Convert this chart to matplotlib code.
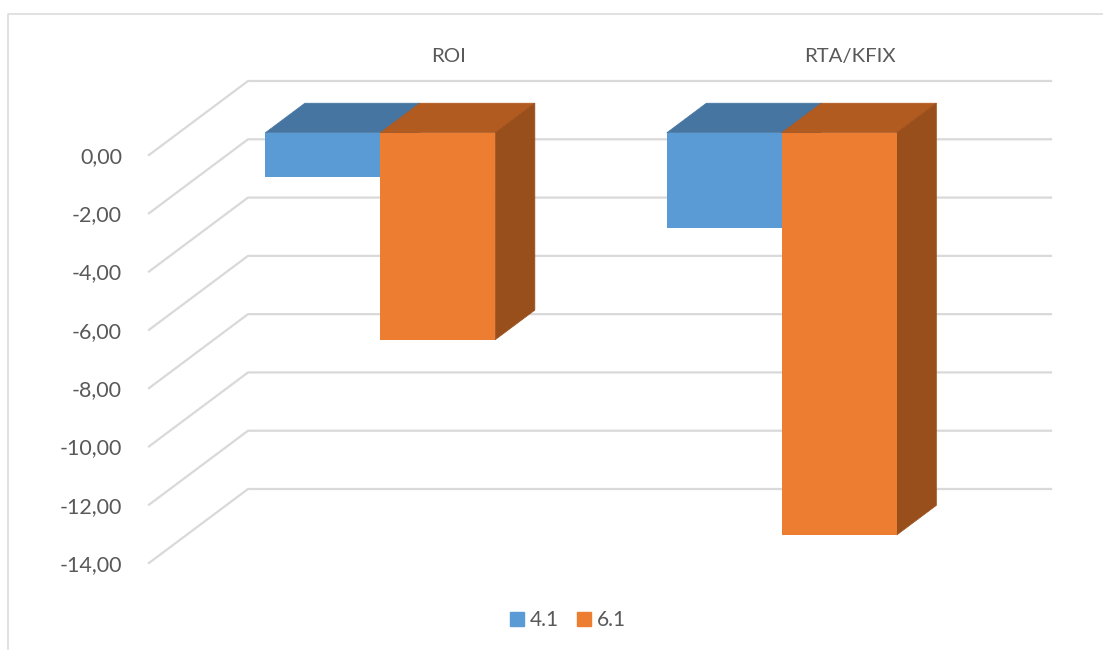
import matplotlib
matplotlib.use("Agg")
import matplotlib.pyplot as plt
from matplotlib.lines import Line2D
from matplotlib.patches import Patch, Polygon
from matplotlib.transforms import ScaledTranslation

categories = ["ROI", "RTA/KFIX"]
series_names = ["4.1", "6.1"]
values_41 = [-1.5, -3.26]
values_61 = [-7.1, -13.8]
yticks = [0, -2, -4, -6, -8, -10, -12, -14]
ytick_labels = ["0,00", "-2,00", "-4,00", "-6,00", "-8,00", "-10,00", "-12,00", "-14,00"]

W, H = 1103, 650
PX_X0, PX_X1, PX_Y0, PX_Y1 = 149, 952, 155, 563   # front plane box in pixels
DX_PX, DY_PX = 99, 74                              # oblique depth in pixels
BAR_W = 115 / 401.5
BAR_NUDGE = 0.8 / 401.5
D_FRONT, D_BACK = 0.3, 0.7
GRID = "#D9D9D9"
TEXT = "#595959"
FACE = {"4.1": ("#5B9BD5", "#4675A1", "#3F6A92"), "6.1": ("#ED7D31", "#B25B20", "#994F1C")}

plt.rcParams["font.family"] = ["Lato", "DejaVu Sans"]
fig = plt.figure(figsize=(W / 100, H / 100), dpi=100, facecolor="white")
ax = fig.add_axes([PX_X0 / W, 1 - PX_Y1 / H, (PX_X1 - PX_X0) / W, (PX_Y1 - PX_Y0) / H])
ax.set_xlim(0, 2)
ax.set_ylim(-14, 0)
ax.patch.set_visible(False)
for s in ax.spines.values():
    s.set_visible(False)

ux = (PX_X1 - PX_X0) / 2
uy = (PX_Y1 - PX_Y0) / 14
def proj(x, v, d):
    return (x + d * DX_PX / ux, v + d * DY_PX / uy)

# gridlines: floor-side diagonal + back wall
for t in yticks:
    a, b, c = proj(0, t, 0), proj(0, t, 1), proj(2, t, 1)
    ax.plot([a[0], b[0], c[0]], [a[1], b[1], c[1]], color=GRID, lw=1.6, clip_on=False,
            solid_joinstyle="miter", zorder=1)

def bar3d(x0, x1, v, name, z):
    front, top, side = FACE[name]
    quads = [
        ([proj(x0, 0, D_FRONT), proj(x1, 0, D_FRONT), proj(x1, 0, D_BACK), proj(x0, 0, D_BACK)], top, 0.5),
        ([proj(x1, v, D_FRONT), proj(x1, 0, D_FRONT), proj(x1, 0, D_BACK), proj(x1, v, D_BACK)], side, 0.5),
        ([proj(x0, v, D_FRONT), proj(x1, v, D_FRONT), proj(x1, 0, D_FRONT), proj(x0, 0, D_FRONT)], front, 0),
    ]
    for k, (pts, col, lw) in enumerate(quads):
        ax.add_patch(Polygon(pts, closed=True, facecolor=col, edgecolor=col if lw else "none", lw=lw,
                             clip_on=False, zorder=z + k * 0.1))

for i, cat in enumerate(categories):
    c = i + 0.5 + BAR_NUDGE
    bar3d(c - BAR_W, c, values_41[i], "4.1", 2)
    bar3d(c, c + BAR_W, values_61[i], "6.1", 3)

ax.set_yticks(yticks, ytick_labels)
ax.tick_params(axis="y", length=0, pad=19.5, labelsize=15.5, labelcolor=TEXT)
ax.xaxis.tick_top()
ax.set_xticks([i + 0.5 for i in range(len(categories))], categories)
ax.tick_params(axis="x", length=0, pad=65, labelsize=14.7, labelcolor=TEXT)
shift = ScaledTranslation(DX_PX / 100, 0, fig.dpi_scale_trans)
for lab in ax.get_xticklabels():
    lab.set_transform(lab.get_transform() + shift)

handles = [Patch(color=FACE[n][0], label=n) for n in series_names]
fig.legend(handles=handles, loc="center", bbox_to_anchor=(568 / W, 1 - 620 / H), ncol=2, frameon=False,
           fontsize=15, labelcolor=TEXT, handlelength=0.67, handleheight=0.67,
           handletextpad=0.3, columnspacing=0.85, borderpad=0)

# chart-area frame
fig.add_artist(Line2D([8 / W, 8 / W, 1], [0, 1 - 13.5 / H, 1 - 13.5 / H], color=GRID, lw=1.1,
                      transform=fig.transFigure))

fig.savefig("out.png", dpi=100)
